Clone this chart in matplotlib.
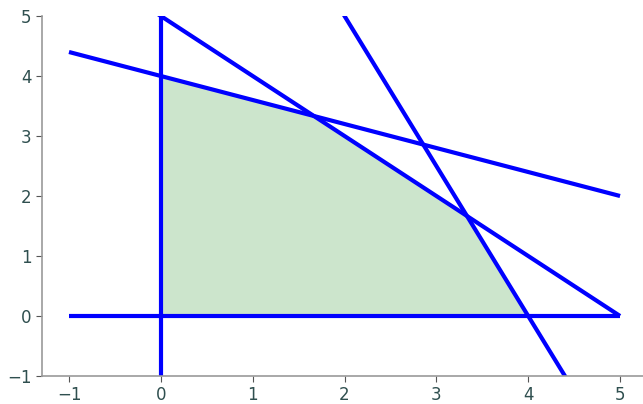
import numpy as np
import matplotlib.pyplot as plt

# constraint lines, each as (a, b, c) for a*x + b*y = c
constraints = [(1.0, 2.5, 10.0), (1.0, 1.0, 5.0), (2.5, 1.0, 10.0), (0.0, 1.0, 0.0)]
# vertices of the feasible region
region_x = [0, 0, 5/3, 10/3, 4]
region_y = [0, 4, 10/3, 5/3, 0]
x_ticks = [-1, 0, 1, 2, 3, 4, 5]
y_ticks = [-1, 0, 1, 2, 3, 4, 5]

fig = plt.figure(figsize=(6.43, 4.04), dpi=100)
ax = fig.add_axes([42/643, 28/404, 1 - 42/643, (376 - 16)/404])

x = np.linspace(-1, 5, 400)
for a, b, c in constraints:
    ax.plot(x, (c - a * x) / b, color='blue', lw=3, solid_capstyle='butt')
ax.plot([0, 0], [-1, 5], color='blue', lw=3, solid_capstyle='butt')

ax.fill(region_x, region_y, color='green', alpha=0.2, lw=0)

ax.set_xlim(-1.294, 5.25)
ax.set_ylim(-1, 5)
ax.set_xticks(x_ticks)
ax.set_yticks(y_ticks)

for side in ['top', 'right']:
    ax.spines[side].set_visible(False)
for side in ['left', 'bottom']:
    ax.spines[side].set_color('#999999')
    ax.spines[side].set_linewidth(1.2)
ax.tick_params(colors='#555555', labelcolor='#2f4f4f', labelsize=12, length=4)

fig.savefig('out.png', dpi=100)
